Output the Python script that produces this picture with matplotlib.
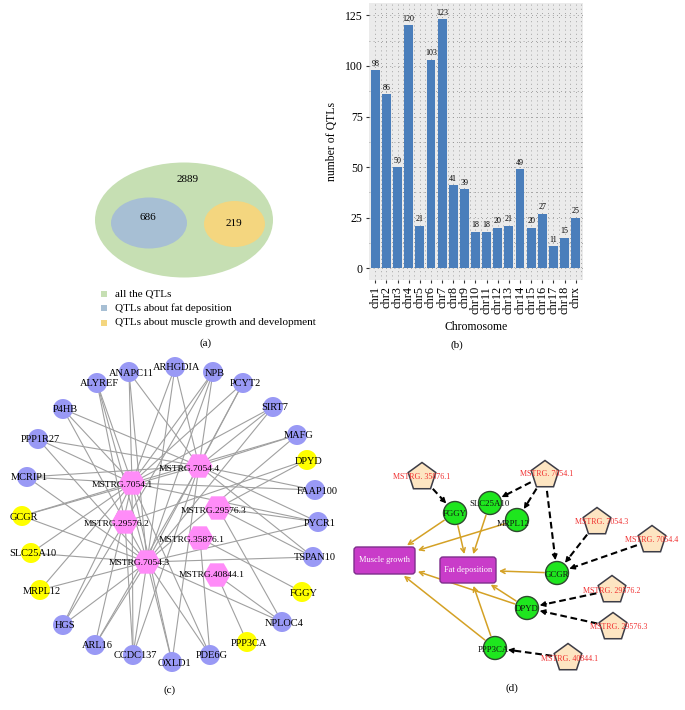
import numpy as np
import matplotlib
matplotlib.use('Agg')
import matplotlib.pyplot as plt
from matplotlib.patches import Ellipse, Circle, RegularPolygon, FancyBboxPatch, FancyArrowPatch, Rectangle
from matplotlib.ticker import MultipleLocator

plt.rcParams['font.family'] = ['Liberation Serif', 'DejaVu Serif']

# ---------------- data ----------------
venn_labels = ['all the QTLs', 'QTLs about fat deposition',
               'QTLs about muscle growth and development']
venn_counts = [2889, 686, 219]

chromosomes = ['chr1', 'chr2', 'chr3', 'chr4', 'chr5', 'chr6', 'chr7', 'chr8', 'chr9',
               'chr10', 'chr11', 'chr12', 'chr13', 'chr14', 'chr15', 'chr16', 'chr17',
               'chr18', 'chrx']
qtl_counts = [98, 86, 50, 120, 21, 103, 123, 41, 39, 18, 18, 20, 21, 49, 20, 27, 11, 15, 25]

hub_nodes = ['MSTRG.7054.4', 'MSTRG.7054.1', 'MSTRG.29576.3', 'MSTRG.29576.2',
             'MSTRG.35876.1', 'MSTRG.7054.3', 'MSTRG.40844.1']
outer_nodes = ['ARHGDIA', 'NPB', 'PCYT2', 'SIRT7', 'MAFG', 'DPYD', 'FAAP100', 'PYCR1',
               'TSPAN10', 'FGGY', 'NPLOC4', 'PPP3CA', 'PDE6G', 'OXLD1', 'CCDC137', 'ARL16',
               'HGS', 'MRPL12', 'SLC25A10', 'GCGR', 'MCRIP1', 'PPP1R27', 'P4HB', 'ALYREF',
               'ANAPC11']
trait_genes = ['DPYD', 'GCGR', 'SLC25A10', 'MRPL12', 'FGGY', 'PPP3CA']

network_edges = {
    'ANAPC11': ['MSTRG.7054.1', 'MSTRG.7054.3', 'MSTRG.7054.4'],
    'ARHGDIA': ['MSTRG.7054.4', 'MSTRG.7054.1', 'MSTRG.7054.3'],
    'NPB': ['MSTRG.7054.4', 'MSTRG.7054.1', 'MSTRG.7054.3', 'MSTRG.29576.2'],
    'PCYT2': ['MSTRG.7054.1', 'MSTRG.7054.3', 'MSTRG.7054.4'],
    'SIRT7': ['MSTRG.7054.4', 'MSTRG.7054.1', 'MSTRG.7054.3'],
    'MAFG': ['MSTRG.7054.4', 'MSTRG.7054.1', 'MSTRG.7054.3'],
    'DPYD': ['MSTRG.29576.2', 'MSTRG.29576.3'],
    'FAAP100': ['MSTRG.7054.4', 'MSTRG.7054.1'],
    'PYCR1': ['MSTRG.7054.4', 'MSTRG.7054.1', 'MSTRG.7054.3', 'MSTRG.29576.3'],
    'TSPAN10': ['MSTRG.7054.3', 'MSTRG.7054.4', 'MSTRG.29576.3'],
    'FGGY': ['MSTRG.35876.1'],
    'NPLOC4': ['MSTRG.29576.3', 'MSTRG.7054.3', 'MSTRG.40844.1'],
    'PPP3CA': ['MSTRG.40844.1'],
    'PDE6G': ['MSTRG.35876.1', 'MSTRG.7054.3', 'MSTRG.7054.1'],
    'OXLD1': ['MSTRG.7054.4', 'MSTRG.7054.3', 'MSTRG.7054.1'],
    'CCDC137': ['MSTRG.7054.1', 'MSTRG.29576.2', 'MSTRG.7054.3', 'MSTRG.7054.4'],
    'ARL16': ['MSTRG.7054.4', 'MSTRG.7054.1', 'MSTRG.7054.3'],
    'HGS': ['MSTRG.7054.1', 'MSTRG.29576.2', 'MSTRG.7054.3'],
    'MRPL12': ['MSTRG.7054.1', 'MSTRG.7054.3'],
    'SLC25A10': ['MSTRG.7054.1', 'MSTRG.7054.3'],
    'GCGR': ['MSTRG.7054.4', 'MSTRG.7054.1', 'MSTRG.7054.3'],
    'MCRIP1': ['MSTRG.7054.1', 'MSTRG.7054.3', 'MSTRG.7054.4'],
    'PPP1R27': ['MSTRG.7054.4', 'MSTRG.7054.1', 'MSTRG.7054.3'],
    'P4HB': ['MSTRG.7054.4', 'MSTRG.7054.1', 'MSTRG.7054.3'],
    'ALYREF': ['MSTRG.7054.1', 'MSTRG.29576.2', 'MSTRG.7054.3'],
}

reg_lncrnas = ['MSTRG. 35876.1', 'MSTRG. 7054.1', 'MSTRG. 7054.3', 'MSTRG. 7054.4',
               'MSTRG. 29576.2', 'MSTRG. 29576.3', 'MSTRG. 40844.1']
traits = ['Muscle growth', 'Fat deposition']
lnc_gene_edges = [('MSTRG. 35876.1', 'FGGY'), ('MSTRG. 7054.1', 'SLC25A10'),
                  ('MSTRG. 7054.1', 'MRPL12'), ('MSTRG. 7054.1', 'GCGR'),
                  ('MSTRG. 7054.3', 'GCGR'), ('MSTRG. 7054.4', 'GCGR'),
                  ('MSTRG. 29576.2', 'DPYD'), ('MSTRG. 29576.3', 'DPYD'),
                  ('MSTRG. 40844.1', 'PPP3CA')]
gene_trait_edges = [('FGGY', 'Muscle growth'), ('MRPL12', 'Muscle growth'),
                    ('FGGY', 'Fat deposition'), ('SLC25A10', 'Fat deposition'),
                    ('GCGR', 'Fat deposition'), ('DPYD', 'Muscle growth'),
                    ('DPYD', 'Fat deposition'), ('PPP3CA', 'Muscle growth'),
                    ('PPP3CA', 'Fat deposition')]

# ---------------- layout (figure pixel coordinates) ----------------
outer_pos = {
    'ARHGDIA': (175, 367), 'NPB': (213, 372), 'PCYT2': (243, 383), 'SIRT7': (273, 407),
    'MAFG': (297, 435), 'DPYD': (307, 460), 'FAAP100': (315, 490), 'PYCR1': (318, 522),
    'TSPAN10': (313, 557), 'FGGY': (302, 592), 'NPLOC4': (282, 622), 'PPP3CA': (247, 642),
    'PDE6G': (210, 655), 'OXLD1': (172, 662), 'CCDC137': (133, 655), 'ARL16': (95, 645),
    'HGS': (63, 625), 'MRPL12': (40, 590), 'SLC25A10': (31, 553), 'GCGR': (22, 516),
    'MCRIP1': (27, 477), 'PPP1R27': (38, 439), 'P4HB': (63, 409), 'ALYREF': (97, 383),
    'ANAPC11': (129, 372)}
hub_pos = {
    'MSTRG.7054.4': (199, 466), 'MSTRG.7054.1': (132, 483), 'MSTRG.29576.3': (218, 508),
    'MSTRG.29576.2': (125, 522), 'MSTRG.35876.1': (200, 538), 'MSTRG.7054.3': (147, 562),
    'MSTRG.40844.1': (217, 575)}
hub_label_pos = {
    'MSTRG.7054.4': (189, 469), 'MSTRG.7054.1': (122, 485), 'MSTRG.29576.3': (214, 511),
    'MSTRG.29576.2': (117, 524), 'MSTRG.35876.1': (192, 540), 'MSTRG.7054.3': (139, 563),
    'MSTRG.40844.1': (212, 575)}

lnc_pos = {'MSTRG. 35876.1': (422, 477), 'MSTRG. 7054.1': (545, 475),
           'MSTRG. 7054.3': (597, 522), 'MSTRG. 7054.4': (652, 540),
           'MSTRG. 29576.2': (612, 590), 'MSTRG. 29576.3': (613, 627),
           'MSTRG. 40844.1': (568, 658)}
lnc_label_pos = {'MSTRG. 35876.1': (422, 477), 'MSTRG. 7054.1': (547, 474),
                 'MSTRG. 7054.3': (602, 522), 'MSTRG. 7054.4': (652, 540),
                 'MSTRG. 29576.2': (612, 591), 'MSTRG. 29576.3': (619, 627),
                 'MSTRG. 40844.1': (570, 659)}
gene_pos = {'FGGY': (455, 513), 'SLC25A10': (490, 503), 'MRPL12': (517, 520),
            'GCGR': (557, 573), 'DPYD': (527, 608), 'PPP3CA': (495, 648)}
gene_label_pos = {'FGGY': (455, 514), 'SLC25A10': (490, 504), 'MRPL12': (513, 524),
                  'GCGR': (557, 575), 'DPYD': (527, 609), 'PPP3CA': (493, 650)}
trait_box = {'Muscle growth': (384.5, 560.5, 61, 27), 'Fat deposition': (468, 570, 56, 26)}

W, H = 685, 710
fig = plt.figure(figsize=(W / 100, H / 100), dpi=100)
ax = fig.add_axes([0, 0, 1, 1])
ax.set_xlim(0, W)
ax.set_ylim(H, 0)
ax.axis('off')

# ---------------- (a) Venn ----------------
venn_colors = ['#C6DFB3', '#A7BFD4', '#F4D67F']
venn_geom = [((184, 220), 178, 115), ((149, 223), 76, 51), ((234.5, 224), 61, 46)]
venn_text = [(188, 179), (148, 218), (234, 224)]
for (c, w, h), col, cnt, tp in zip(venn_geom, venn_colors, venn_counts, venn_text):
    ax.add_patch(Ellipse(c, w, h, facecolor=col, edgecolor='none'))
    ax.text(tp[0], tp[1], str(cnt), fontsize=8, ha='center', va='center')
for i, (lab, col) in enumerate(zip(venn_labels, venn_colors)):
    y = 294 + i * 14.3
    ax.add_patch(Rectangle((101, y - 3), 6, 6, facecolor=col, edgecolor='none'))
    ax.text(115, y, lab, fontsize=8, ha='left', va='center')
ax.text(206, 343, '(a)', fontsize=8, ha='center', va='center')

# ---------------- (c) network ----------------
edge_col = '#A0A0A0'
for gene, hubs in network_edges.items():
    for hb in hubs:
        x0, y0 = outer_pos[gene]
        x1, y1 = hub_pos[hb]
        ax.plot([x0, x1], [y0, y1], color=edge_col, lw=0.8, zorder=2)
for g in outer_nodes:
    col = '#FFFF00' if g in trait_genes else '#9999F5'
    ax.add_patch(Circle(outer_pos[g], 10, facecolor=col, edgecolor='none', zorder=3))
    ax.text(outer_pos[g][0] + 2, outer_pos[g][1] + 1, g, fontsize=7.5, ha='center',
            va='center', zorder=5)
for hb in hub_nodes:
    ax.add_patch(RegularPolygon(hub_pos[hb], 6, radius=13.5, orientation=np.pi / 6,
                                facecolor='#FF8CF8', edgecolor='none', zorder=3))
    lx, ly = hub_label_pos[hb]
    ax.text(lx, ly, hb, fontsize=6.8, ha='center', va='center', zorder=5)
ax.text(170, 690, '(c)', fontsize=8, ha='center', va='center')

# ---------------- (d) regulation network ----------------
def unit(p0, p1):
    d = np.array(p1, float) - np.array(p0, float)
    return d / np.hypot(*d)


def box_edge(name, frm, gap=3):
    cx, cy, w, h = trait_box[name]
    d = np.array(frm, float) - np.array([cx, cy])
    t = min((w / 2) / abs(d[0]) if d[0] else 1e9, (h / 2) / abs(d[1]) if d[1] else 1e9)
    p = np.array([cx, cy]) + d * t
    return p + d / np.hypot(*d) * gap


black_lw = 1.5
for src, tgt in lnc_gene_edges:
    p0 = np.array(lnc_pos[src], float)
    p1 = np.array(gene_pos[tgt], float)
    u = unit(p0, p1)
    a = p0 + u * 16
    b = p1 - u * 13
    hl = 6
    ax.plot([a[0], b[0] - u[0] * hl], [a[1], b[1] - u[1] * hl], color='black', lw=black_lw,
            ls=(0, (3.2, 1.8)), zorder=2)
    ax.add_patch(FancyArrowPatch(b - u * (hl + 1), b, arrowstyle='-|>', mutation_scale=8,
                                 color='black', lw=1.0, zorder=2, shrinkA=0, shrinkB=0))

orange = '#D4A125'
for src, tgt in gene_trait_edges:
    p0 = np.array(gene_pos[src], float)
    b = box_edge(tgt, p0)
    u = unit(p0, b)
    a = p0 + u * 13
    ax.add_patch(FancyArrowPatch(a, b, arrowstyle='->', mutation_scale=8, color=orange,
                                 lw=1.1, zorder=2, shrinkA=0, shrinkB=0))

for name, (cx, cy, w, h) in trait_box.items():
    ax.add_patch(FancyBboxPatch((cx - w / 2, cy - h / 2), w, h,
                                boxstyle='round,pad=0,rounding_size=3',
                                facecolor='#C93CC9', edgecolor='#7E2E8C', lw=1.0, zorder=3))
    ax.text(cx, cy, name, fontsize=6, color='white', ha='center', va='center', zorder=4)

for g in trait_genes:
    ax.add_patch(Circle(gene_pos[g], 11.5, facecolor='#1EE61E', edgecolor='#2E4A2E',
                        lw=1.0, zorder=3))
    lx, ly = gene_label_pos[g]
    ax.text(lx, ly, g, fontsize=6.3, ha='center', va='center', color='#111111', zorder=4)

for l in reg_lncrnas:
    ax.add_patch(RegularPolygon(lnc_pos[l], 5, radius=14.5, orientation=np.pi,
                                facecolor='#FDE5C2', edgecolor='#3C3C46', lw=1.1, zorder=3))
    lx, ly = lnc_label_pos[l]
    ax.text(lx, ly, l, fontsize=5.8, color='#F03030', ha='center', va='center', zorder=4)

ax.text(512, 688, '(d)', fontsize=8, ha='center', va='center')

# ---------------- (b) bar chart ----------------
L, R, T, B = 369, 583, 3, 280
bx = fig.add_axes([L / W, 1 - B / H, (R - L) / W, (B - T) / H])
bx.set_facecolor('#EBEBEB')
x = np.arange(len(chromosomes))
bx.bar(x, qtl_counts, width=0.8, color='#4A7EBB', zorder=3)
for xi, v in zip(x, qtl_counts):
    bx.text(xi, v + 1.2, str(v), fontsize=5.8, ha='center', va='bottom', zorder=4)
bx.set_xlim(-0.57, len(chromosomes) - 1 + 0.66)
bx.set_ylim(-5.8, 131.1)
bx.yaxis.set_major_locator(MultipleLocator(25))
bx.yaxis.set_minor_locator(MultipleLocator(12.5))
bx.set_xticks(x)
bx.set_xticks(x + 0.5, minor=True)
bx.set_xticklabels(chromosomes, rotation=90, fontsize=8.8)
bx.tick_params(axis='y', labelsize=8.5)
bx.tick_params(which='major', length=2.5, color='#333333', pad=2)
bx.tick_params(which='minor', length=0)
bx.grid(True, which='both', color='#8A8A8A', lw=0.6, ls=(0, (1, 4)), zorder=0)
bx.set_axisbelow(True)
for s in bx.spines.values():
    s.set_visible(False)
bx.set_ylabel('number of QTLs', fontsize=8.5)
bx.yaxis.set_label_coords((338 - L) / (R - L), 0.5)
bx.set_xlabel('Chromosome', fontsize=8.5, va='center')
bx.xaxis.set_label_coords(0.5, -(327 - B) / (B - T))
fig.text(457 / W, 1 - 345 / H, '(b)', fontsize=8, ha='center', va='center')

fig.savefig('out.png', dpi=100)
